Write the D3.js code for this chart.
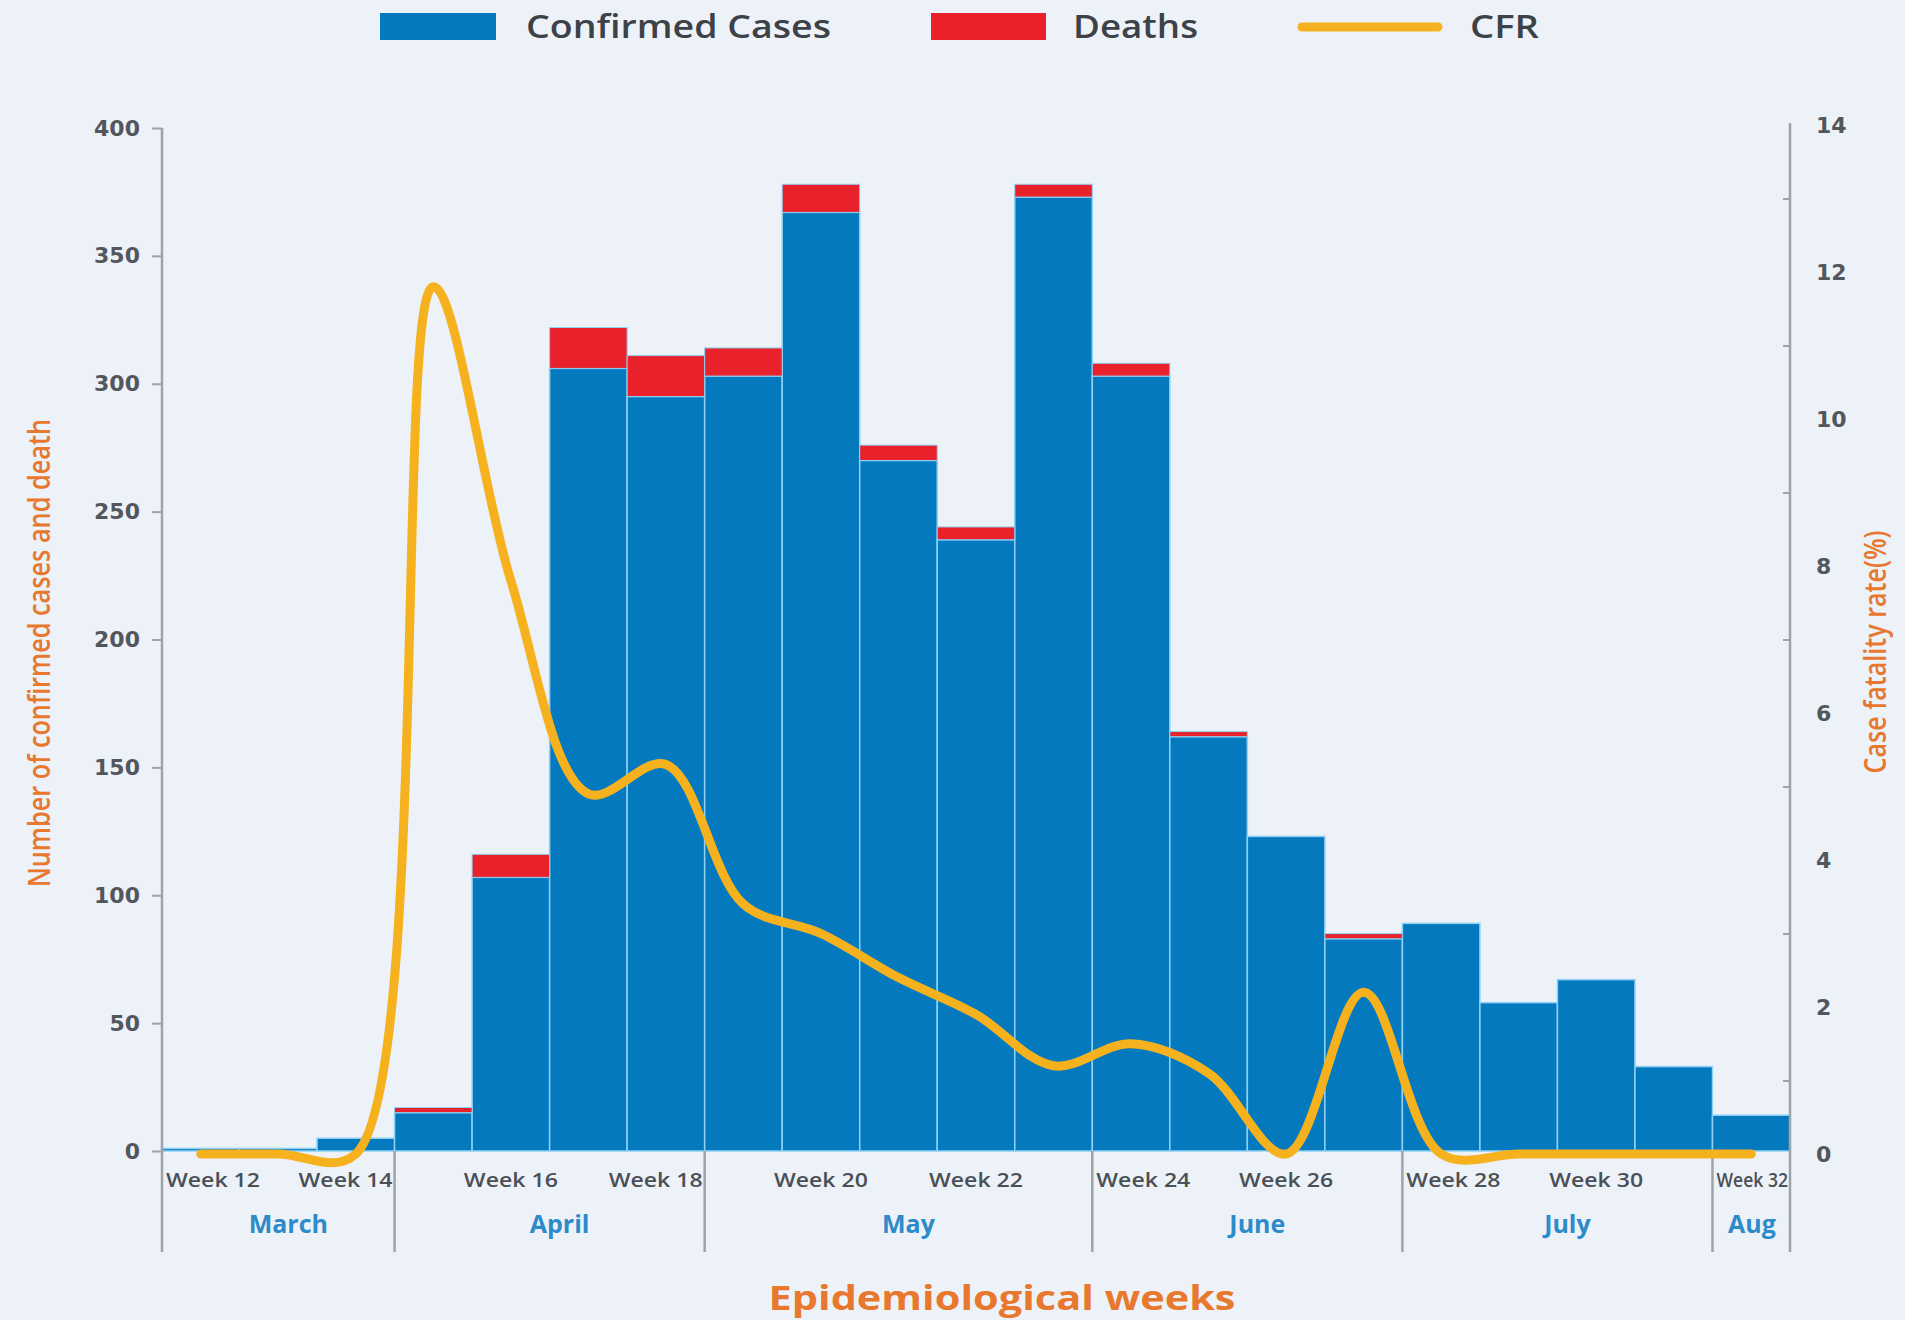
<!DOCTYPE html>
<html>
<head>
<meta charset="utf-8">
<script src="https://cdn.jsdelivr.net/npm/d3@7"></script>
<style>
  html, body { margin: 0; padding: 0; background: #edf2f9; }
  svg { display: block; }
</style>
</head>
<body>
<svg id="chart" width="1905" height="1320"></svg>
<script>
"use strict";
// epidemiological weeks on the x axis
const weeks = ["Week 12", "Week 13", "Week 14", "Week 15", "Week 16", "Week 17", "Week 18",
    "Week 19", "Week 20", "Week 21", "Week 22", "Week 23", "Week 24", "Week 25", "Week 26",
    "Week 27", "Week 28", "Week 29", "Week 30", "Week 31", "Week 32"];
const labelledWeeks = ["Week 12", "Week 14", "Week 16", "Week 18", "Week 20", "Week 22",
    "Week 24", "Week 26", "Week 28", "Week 30", "Week 32"];
// blue part of each bar and the red part stacked on top
const confirmed = [1, 1, 5, 15, 107, 306, 295, 303, 367, 270, 239, 373, 303, 162, 123, 83, 89, 58, 67, 33, 14];
const deaths = [0, 0, 0, 2, 9, 16, 16, 11, 11, 6, 5, 5, 5, 2, 0, 2, 0, 0, 0, 0, 0];
// case fatality rate (%)
const cfr = [0, 0, 0, 11.8, 7.8, 4.9, 5.3, 3.4, 3.0, 2.4, 1.9, 1.2, 1.5, 1.1, 0, 2.2, 0, 0, 0, 0, 0];
// month groups under the week labels
const months = ["March", "April", "May", "June", "July", "Aug"];
const monthFirstWeek = ["Week 12", "Week 15", "Week 19", "Week 24", "Week 28", "Week 32"];
const leftTicks = [0, 50, 100, 150, 200, 250, 300, 350, 400];
const rightTicks = [0, 2, 4, 6, 8, 10, 12, 14];
const rightMinorTicks = [1, 3, 5, 7, 9, 11, 13];

const plot = { left: 162, right: 1790, top: 128, bottom: 1151, axisBottom: 1252 };
const colors = { cases: "#0479bd", deaths: "#e8212a", cfr: "#f5b21e", axis: "#9ea3a9",
    tick: "#52575d", orange: "#e8782d", month: "#2d8bca", sep: "#8fd1f5" };

const svg = d3.select("#chart");
svg.append("rect").attr("width", 1905).attr("height", 1320).attr("fill", "#edf2f9");

const x = d3.scaleBand().domain(weeks).range([plot.left, plot.right]).padding(0);
const yLeft = d3.scaleLinear().domain([0, 400]).range([plot.bottom, plot.top]);
const yRight = d3.scaleLinear().domain([0, 14]).range([plot.bottom + 3, plot.top - 3]);
const bw = x.bandwidth();

const rows = weeks.map((w, i) => ({ week: w, cases: confirmed[i], deaths: deaths[i], cfr: cfr[i] }));

// stacked bars
const bars = svg.append("g").attr("class", "bars");
bars.selectAll("rect.case").data(rows).join("rect")
    .attr("class", "case")
    .attr("x", d => x(d.week))
    .attr("y", d => yLeft(d.cases))
    .attr("width", bw)
    .attr("height", d => yLeft(0) - yLeft(d.cases))
    .attr("fill", colors.cases)
    .attr("stroke", colors.sep)
    .attr("stroke-width", 1.5);
bars.selectAll("rect.death").data(rows.filter(d => d.deaths > 0)).join("rect")
    .attr("class", "death")
    .attr("x", d => x(d.week))
    .attr("y", d => yLeft(d.cases + d.deaths))
    .attr("width", bw)
    .attr("height", d => yLeft(d.cases) - yLeft(d.cases + d.deaths))
    .attr("fill", colors.deaths)
    .attr("stroke", colors.sep)
    .attr("stroke-width", 1);

// left axis
const gLeft = svg.append("g").attr("transform", `translate(${plot.left},0)`)
    .call(d3.axisLeft(yLeft).tickValues(leftTicks).tickSize(10).tickPadding(12));
gLeft.select(".domain").remove();
gLeft.selectAll(".tick line").attr("stroke", colors.axis).attr("stroke-width", 2);
gLeft.selectAll(".tick text")
    .attr("font-family", "DejaVu Sans").attr("font-weight", "bold")
    .attr("font-size", 22).attr("fill", colors.tick);

// right axis: labels on even values, small inward ticks on odd ones
const gRight = svg.append("g").attr("transform", `translate(${plot.right},0)`)
    .call(d3.axisRight(yRight).tickValues(rightTicks).tickSize(0).tickPadding(26));
gRight.select(".domain").remove();
gRight.selectAll(".tick text")
    .attr("font-family", "DejaVu Sans").attr("font-weight", "bold")
    .attr("font-size", 22).attr("fill", colors.tick);
const gMinor = svg.append("g").attr("transform", `translate(${plot.right},0)`)
    .call(d3.axisLeft(yRight).tickValues(rightMinorTicks).tickSize(7).tickFormat(""));
gMinor.select(".domain").remove();
gMinor.selectAll(".tick line").attr("stroke", colors.axis).attr("stroke-width", 2);

// month dividers, including the two axis lines which run down past the labels
const bounds = monthFirstWeek.map(w => x(w)).concat([plot.right]);
svg.append("g").selectAll("line").data(bounds).join("line")
    .attr("x1", d => d).attr("x2", d => d)
    .attr("y1", (d, i) => (i === 0 ? yLeft(400) : i === bounds.length - 1 ? yRight(14) - 2 : plot.bottom))
    .attr("y2", plot.axisBottom)
    .attr("stroke", colors.axis)
    .attr("stroke-width", 2.5);

// week labels, kept inside their month box
const weekLabels = svg.append("g");
labelledWeeks.forEach(w => {
    const c = x(w) + bw / 2;
    const m = d3.bisectRight(bounds, c) - 1;
    const lo = bounds[m], hi = bounds[m + 1];
    const len = Math.min(94, hi - lo - 6);
    const cx = Math.max(lo + len / 2 + 4, Math.min(hi - len / 2 - 2, c));
    weekLabels.append("text")
        .attr("x", cx - len / 2).attr("y", 1187)
        .attr("textLength", len).attr("lengthAdjust", "spacingAndGlyphs")
        .attr("font-family", "Open Sans").attr("font-weight", 600)
        .attr("font-size", 20).attr("fill", "#4b5056")
        .text(w);
});

// month labels
svg.append("g").selectAll("text").data(months).join("text")
    .attr("x", (d, i) => Math.min((bounds[i] + bounds[i + 1]) / 2 + 10, bounds[i + 1] - 38))
    .attr("y", 1233)
    .attr("text-anchor", "middle")
    .attr("font-family", "Open Sans").attr("font-weight", 700)
    .attr("font-size", 25).attr("fill", colors.month)
    .text(d => d);

// CFR line on the right scale
const line = d3.line()
    .x(d => x(d.week) + bw / 2)
    .y(d => yRight(d.cfr))
    .curve(d3.curveCatmullRom.alpha(0.5));
svg.append("path").datum(rows)
    .attr("d", line)
    .attr("fill", "none")
    .attr("stroke", colors.cfr)
    .attr("stroke-width", 9)
    .attr("stroke-linecap", "round")
    .attr("stroke-linejoin", "round");

// axis titles
svg.append("text")
    .attr("transform", "translate(50,653) rotate(-90)")
    .attr("text-anchor", "middle")
    .attr("textLength", 468).attr("lengthAdjust", "spacingAndGlyphs")
    .attr("font-family", "Open Sans").attr("font-weight", 600)
    .attr("font-size", 30).attr("fill", colors.orange)
    .text("Number of confirmed cases and death");
svg.append("text")
    .attr("transform", "translate(1886,652) rotate(-90)")
    .attr("text-anchor", "middle")
    .attr("textLength", 243).attr("lengthAdjust", "spacingAndGlyphs")
    .attr("font-family", "Open Sans").attr("font-weight", 600)
    .attr("font-size", 30).attr("fill", colors.orange)
    .text("Case fatality rate(%)");
svg.append("text")
    .attr("x", 1002).attr("y", 1310)
    .attr("text-anchor", "middle")
    .attr("textLength", 467).attr("lengthAdjust", "spacingAndGlyphs")
    .attr("font-family", "Open Sans").attr("font-weight", 700)
    .attr("font-size", 34).attr("fill", colors.orange)
    .text("Epidemiological weeks");

// legend
const legend = svg.append("g");
legend.append("rect").attr("x", 380).attr("y", 13).attr("width", 116).attr("height", 27).attr("fill", colors.cases);
legend.append("rect").attr("x", 931).attr("y", 13).attr("width", 115).attr("height", 27).attr("fill", colors.deaths);
legend.append("line").attr("x1", 1302).attr("x2", 1438).attr("y1", 27).attr("y2", 27)
    .attr("stroke", colors.cfr).attr("stroke-width", 9).attr("stroke-linecap", "round");
[["Confirmed Cases", 526, 305], ["Deaths", 1073, 125], ["CFR", 1470, 69]].forEach(([t, lx, len]) => {
    legend.append("text")
        .attr("x", lx).attr("y", 38)
        .attr("textLength", len).attr("lengthAdjust", "spacingAndGlyphs")
        .attr("font-family", "Open Sans").attr("font-weight", 600)
        .attr("font-size", 32).attr("fill", "#3d4248")
        .text(t);
});
</script>
</body>
</html>
